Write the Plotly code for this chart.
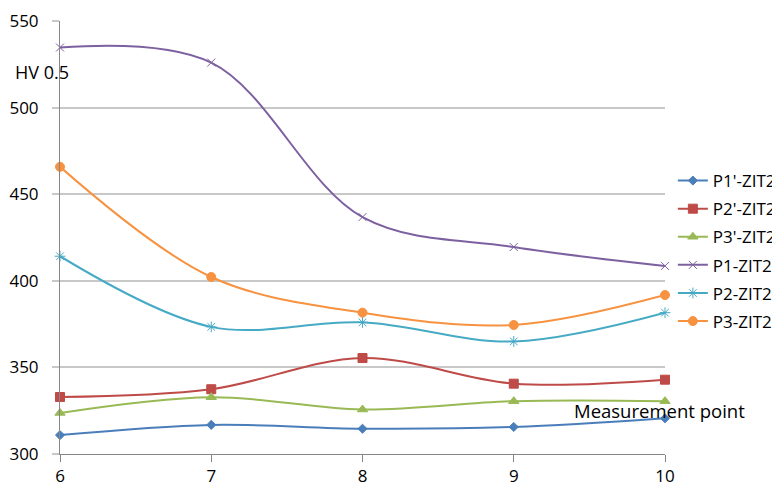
import plotly.graph_objects as go

# Measurement points along the specimen
points = [6, 7, 8, 9, 10]

# Microhardness HV 0.5 per series
series_names = ["P1'-ZIT2", "P2'-ZIT2", "P3'-ZIT2", "P1-ZIT2", "P2-ZIT2", "P3-ZIT2"]
p1_prime = [310.9, 316.8, 314.6, 315.6, 320.6]
p2_prime = [332.9, 337.4, 355.4, 340.6, 342.9]
p3_prime = [323.7, 332.8, 325.7, 330.5, 330.5]
p1 = [534.7, 526.0, 436.8, 419.5, 408.6]
p2 = [414.2, 373.4, 376.0, 365.0, 381.6]
p3 = [465.8, 402.2, 381.6, 374.5, 391.8]

y_ticks = [300, 350, 400, 450, 500, 550]

styles = [
    dict(color="#4A7EBB", symbol="diamond", size=7),
    dict(color="#BE4B48", symbol="square", size=9),
    dict(color="#98B954", symbol="triangle-up", size=9),
    dict(color="#7D60A0", symbol="x-thin-open", size=8),
    dict(color="#46AAC5", symbol="asterisk-open", size=9),
    dict(color="#F69240", symbol="circle", size=9),
]

FONT = "Open Sans"

fig = go.Figure()
for name, vals, st in zip(series_names, [p1_prime, p2_prime, p3_prime, p1, p2, p3], styles):
    fig.add_trace(go.Scatter(
        x=points, y=vals, name=name, legendgroup=name,
        mode="lines+markers",
        line=dict(color=st["color"], width=2, shape="spline", smoothing=1.0),
        marker=dict(color=st["color"], symbol=st["symbol"], size=st["size"],
                    line=dict(color=st["color"], width=1)),
        cliponaxis=False,
    ))

fig.update_layout(
    width=772, height=489,
    margin=dict(l=60, r=107, t=21, b=35, autoexpand=False),
    paper_bgcolor="white", plot_bgcolor="white",
    font=dict(family=FONT, size=17, color="#000000"),
    showlegend=True,
    legend=dict(x=1.013, y=0.672, xanchor="left", yanchor="top",
                font=dict(family=FONT, size=17), traceorder="grouped",
                tracegroupgap=3, itemwidth=30, bgcolor="rgba(0,0,0,0)"),
    xaxis=dict(range=[6, 10], tickvals=points, showgrid=False,
               showline=True, linecolor="#868686", linewidth=1,
               ticks="outside", ticklen=7, tickcolor="#868686",
               tickfont=dict(family=FONT, size=17), zeroline=False),
    yaxis=dict(range=[300, 550], tickvals=y_ticks, showgrid=True,
               gridcolor="#C8C8C8", gridwidth=2,
               showline=True, linecolor="#868686", linewidth=1,
               ticks="outside", ticklen=7, tickcolor="#C8C8C8", tickwidth=2,
               ticklabelstandoff=10,
               tickfont=dict(family=FONT, size=17), zeroline=False),
    annotations=[
        dict(text="HV 0.5", xref="paper", yref="paper", x=-0.078, y=0.882,
             xanchor="left", yanchor="middle", showarrow=False,
             font=dict(family=FONT, size=18)),
        dict(text="Measurement point", xref="paper", yref="paper", x=0.846, y=0.101,
             xanchor="left", yanchor="middle", showarrow=False,
             font=dict(family=FONT, size=18.5)),
    ],
)

fig.write_html("out.html")
